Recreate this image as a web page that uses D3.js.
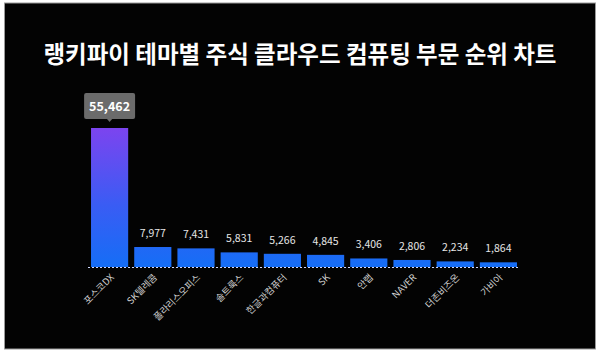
<!DOCTYPE html>
<html>
<head>
<meta charset="utf-8">
<script src="https://cdn.jsdelivr.net/npm/d3@7"></script>
<style>
  body { margin: 0; background: #fff; }
  svg { display: block; font-family: "Noto Sans CJK KR", "Noto Sans", sans-serif; }
</style>
</head>
<body>
<div id="chart"></div>
<script>
// chart data
const titleText = '랭키파이 테마별 주식 클라우드 컴퓨팅 부문 순위 차트';
const companies = ['포스코DX', 'SK텔레콤', '폴라리스오피스', '솔트룩스', '한글과컴퓨터', 'SK', '안랩', 'NAVER', '더존비즈온', '가비아'];
const scores = [55462, 7977, 7431, 5831, 5266, 4845, 3406, 2806, 2234, 1864];

const w = 600, h = 354;
const baseY = 267, topY = 128;

let svg = d3.select('#chart').append('svg')
    .attr('width', w).attr('height', h)
    .attr('viewBox', `0 0 ${w} ${h}`);

// frame
svg.append('rect').attr('x', 0).attr('y', 0).attr('width', w).attr('height', h).attr('fill', '#fff');
svg.append('rect').attr('x', 4.5).attr('y', 3).attr('width', 591).attr('height', 346)
    .attr('fill', '#030303').attr('stroke', '#9a9a9a').attr('stroke-width', 1);

// gradient for the bars (shared, so short bars stay blue)
let grad = svg.append('defs').append('linearGradient')
    .attr('id', 'barGrad')
    .attr('gradientUnits', 'userSpaceOnUse')
    .attr('x1', 0).attr('x2', 0).attr('y1', topY).attr('y2', baseY);
grad.append('stop').attr('offset', '0%').attr('stop-color', '#7c44ef');
grad.append('stop').attr('offset', '55%').attr('stop-color', '#3a5cf4');
grad.append('stop').attr('offset', '100%').attr('stop-color', '#156ef6');

svg.append('text')
    .attr('x', w / 2).attr('y', 63)
    .attr('text-anchor', 'middle')
    .attr('fill', '#fff')
    .attr('font-size', 23.5)
    .attr('font-weight', 'bold')
    .text(titleText);

let x = d3.scaleBand().domain(companies).range([88, 520]).paddingInner(0.14).paddingOuter(0.07);
let y = d3.scaleLinear().domain([0, d3.max(scores)]).range([baseY, topY]);

let rows = companies.map((c, i) => ({ name: c, value: scores[i] }));

svg.selectAll('.bar').data(rows).enter().append('rect')
    .attr('class', 'bar')
    .attr('x', d => x(d.name))
    .attr('y', d => y(d.value))
    .attr('width', x.bandwidth())
    .attr('height', d => y(0) - y(d.value))
    .attr('fill', 'url(#barGrad)');

// dotted baseline
svg.append('line')
    .attr('x1', 88).attr('x2', 520)
    .attr('y1', y(0) + 0.5).attr('y2', y(0) + 0.5)
    .attr('stroke', '#cfd8ff').attr('stroke-width', 1)
    .attr('stroke-dasharray', '2,2');

// value labels (skip the first, it gets the tooltip box)
svg.selectAll('.val').data(rows.slice(1)).enter().append('text')
    .attr('class', 'val')
    .attr('x', d => x(d.name) + x.bandwidth() / 2)
    .attr('y', d => y(d.value) - 10)
    .attr('text-anchor', 'middle')
    .attr('fill', '#e6e6e6')
    .attr('font-size', 10.5)
    .text(d => d3.format(',')(d.value));

// tooltip on the top bar
let first = rows[0];
let cx = x(first.name) + x.bandwidth() / 2;
let ty = y(first.value);
let tip = svg.append('g');
tip.append('rect')
    .attr('x', cx - 25.5).attr('y', ty - 35)
    .attr('width', 51).attr('height', 26)
    .attr('rx', 2)
    .attr('fill', '#6b6b6b');
tip.append('path')
    .attr('d', `M${cx - 3},${ty - 9.5} L${cx},${ty - 6} L${cx + 3},${ty - 9.5} Z`)
    .attr('fill', '#6b6b6b');
tip.append('text')
    .attr('x', cx).attr('y', ty - 17)
    .attr('text-anchor', 'middle')
    .attr('fill', '#fff')
    .attr('font-size', 12.5)
    .attr('font-weight', 'bold')
    .text(d3.format(',')(first.value));

// rotated category labels
svg.selectAll('.cat').data(rows).enter().append('text')
    .attr('class', 'cat')
    .attr('transform', d => `translate(${x(d.name) + x.bandwidth() / 2 + 5},${baseY + 11}) rotate(-45)`)
    .attr('text-anchor', 'end')
    .attr('fill', '#d0d0d0')
    .attr('font-size', 9.5)
    .text(d => d.name);
</script>
</body>
</html>
